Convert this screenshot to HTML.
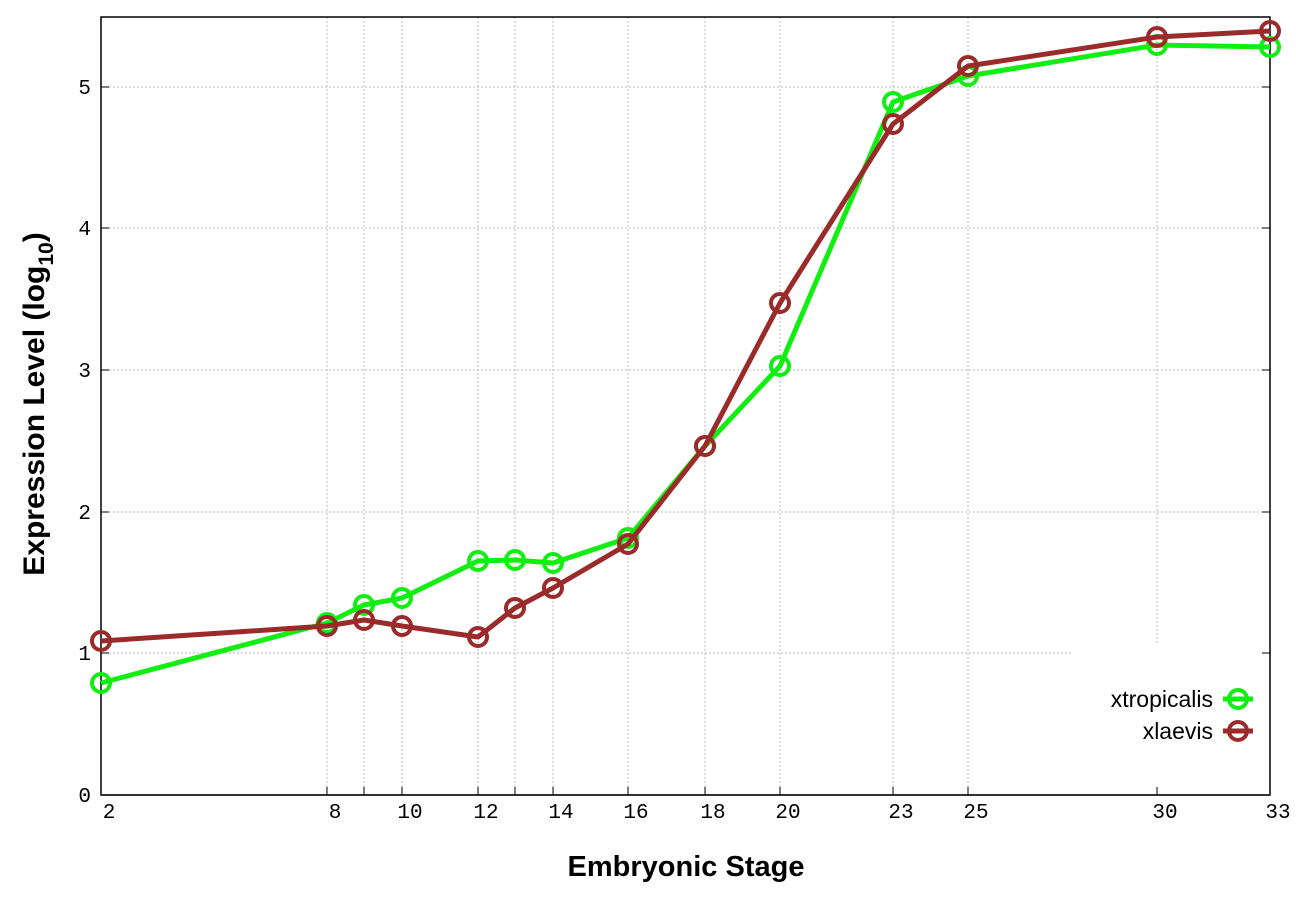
<!DOCTYPE html><html><head><style>body{margin:0;background:#fff}</style></head><body>
<svg width="1296" height="907" xmlns="http://www.w3.org/2000/svg" font-family="Liberation Mono, monospace">
<rect width="1296" height="907" fill="#fff"/>
<g stroke="#bbb" stroke-width="1" stroke-dasharray="2,2">
<line x1="101" x2="1270" y1="653" y2="653"/><line x1="101" x2="1270" y1="512" y2="512"/><line x1="101" x2="1270" y1="370" y2="370"/><line x1="101" x2="1270" y1="228" y2="228"/><line x1="101" x2="1270" y1="87" y2="87"/>
<line x1="327" x2="327" y1="17" y2="795"/><line x1="364" x2="364" y1="17" y2="795"/><line x1="402" x2="402" y1="17" y2="795"/><line x1="478" x2="478" y1="17" y2="795"/><line x1="515" x2="515" y1="17" y2="795"/><line x1="553" x2="553" y1="17" y2="795"/><line x1="628" x2="628" y1="17" y2="795"/><line x1="705" x2="705" y1="17" y2="795"/><line x1="780" x2="780" y1="17" y2="795"/><line x1="893" x2="893" y1="17" y2="795"/><line x1="968" x2="968" y1="17" y2="795"/><line x1="1157" x2="1157" y1="17" y2="795"/>
</g>
<rect x="1072" y="643" width="196" height="150" fill="#fff"/>
<rect x="101" y="17" width="1169" height="778" fill="none" stroke="#000" stroke-width="1.5"/>
<line x1="101" x2="1270" y1="795" y2="795" stroke="#333" stroke-width="2"/>
<g stroke="#000" stroke-width="1">
<path d="M101 653h8M101 512h8M101 370h8M101 228h8M101 87h8M1270 653h-8M1270 512h-8M1270 370h-8M1270 228h-8M1270 87h-8"/>
<path d="M327 795v-8M364 795v-8M402 795v-8M478 795v-8M515 795v-8M553 795v-8M628 795v-8M705 795v-8M780 795v-8M893 795v-8M968 795v-8M1157 795v-8"/>
</g>
<g font-size="21" text-anchor="end" fill="#000">
<text x="91" y="802">0</text><text x="91" y="660">1</text><text x="91" y="519">2</text><text x="91" y="377">3</text><text x="91" y="235">4</text><text x="91" y="94">5</text>
</g>
<g font-size="21" text-anchor="middle" fill="#000">
<text x="109" y="818">2</text><text x="335" y="818">8</text><text x="410" y="818">10</text><text x="486" y="818">12</text><text x="561" y="818">14</text><text x="636" y="818">16</text><text x="713" y="818">18</text><text x="788" y="818">20</text><text x="901" y="818">23</text><text x="976" y="818">25</text><text x="1165" y="818">30</text><text x="1278" y="818">33</text>
</g>
<g font-family="Liberation Sans, sans-serif" font-weight="bold" font-size="29" fill="#000">
<text x="686" y="876" text-anchor="middle">Embryonic Stage</text>
<text transform="translate(44,404) rotate(-90)" text-anchor="middle" font-size="30">Expression Level (log<tspan font-size="21" dy="9">10</tspan><tspan dy="-9">)</tspan></text>
</g>
<g fill="none" stroke-width="5" stroke-linejoin="round">
<polyline stroke="#11ee11" points="101,683 327,623 364,605 402,598 478,561 515,560 553,563 628,538 705,446 780,366 893,102 968,76 1157,45 1270,47"/>
<g stroke="#11ee11" stroke-width="4" fill="none">
<circle cx="101" cy="683" r="9"/><circle cx="327" cy="623" r="9"/><circle cx="364" cy="605" r="9"/><circle cx="402" cy="598" r="9"/><circle cx="478" cy="561" r="9"/><circle cx="515" cy="560" r="9"/><circle cx="553" cy="563" r="9"/><circle cx="628" cy="538" r="9"/><circle cx="705" cy="446" r="9"/><circle cx="780" cy="366" r="9"/><circle cx="893" cy="102" r="9"/><circle cx="968" cy="76" r="9"/><circle cx="1157" cy="45" r="9"/><circle cx="1270" cy="47" r="9"/>
</g>
<polyline stroke="#9b2a2a" points="101,641 327,626 364,620 402,626 478,637 515,608 553,588 628,544 705,446 780,303 893,124 968,66 1157,37 1270,31"/>
<g stroke="#9b2a2a" stroke-width="4" fill="none">
<circle cx="101" cy="641" r="9"/><circle cx="327" cy="626" r="9"/><circle cx="364" cy="620" r="9"/><circle cx="402" cy="626" r="9"/><circle cx="478" cy="637" r="9"/><circle cx="515" cy="608" r="9"/><circle cx="553" cy="588" r="9"/><circle cx="628" cy="544" r="9"/><circle cx="705" cy="446" r="9"/><circle cx="780" cy="303" r="9"/><circle cx="893" cy="124" r="9"/><circle cx="968" cy="66" r="9"/><circle cx="1157" cy="37" r="9"/><circle cx="1270" cy="31" r="9"/>
</g>
<line x1="1223" x2="1253" y1="699" y2="699" stroke="#11ee11"/><circle cx="1238" cy="699" r="9" stroke="#11ee11" stroke-width="4"/>
<line x1="1223" x2="1253" y1="731" y2="731" stroke="#9b2a2a"/><circle cx="1238" cy="731" r="9" stroke="#9b2a2a" stroke-width="4"/>
</g>
<g font-family="Liberation Sans, sans-serif" font-size="23" text-anchor="end" fill="#000">
<text x="1213" y="707">xtropicalis</text><text x="1213" y="739">xlaevis</text>
</g>
</svg></body></html>
